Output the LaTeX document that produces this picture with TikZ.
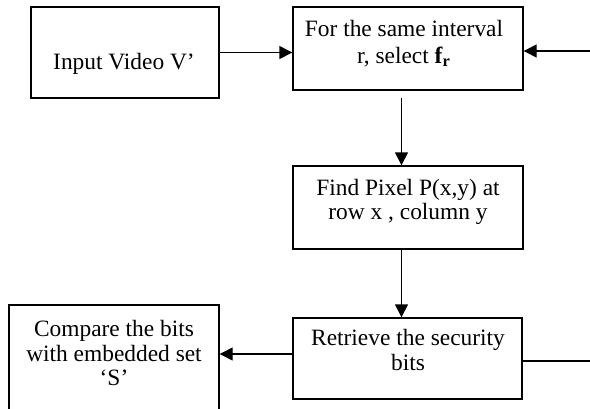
\documentclass[tikz,border=0pt]{standalone}
\usepackage{fontspec}
\setmainfont{Liberation Serif}
\usetikzlibrary{arrows.meta}
\begin{document}
\begin{tikzpicture}[x=0.5pt,y=-0.5pt,
  box/.style={draw, line width=0.7pt, inner sep=0pt},
  lbl/.style={anchor=base, inner sep=0pt, align=center,
    font=\fontsize{11.7}{12.5}\selectfont},
  link/.style={line width=0.7pt},
  arr/.style={link, -{Triangle[length=6.5pt,width=6.5pt]}}]
\useasboundingbox (0,0) rectangle (590,408);
\clip (0,0) rectangle (590,408);

% process boxes
\node[box, minimum width=94pt,  minimum height=45.5pt] (in)  at (125,52.5)  {};
\node[box, minimum width=115pt, minimum height=41.5pt] (sel) at (408,48.5)  {};
\node[box, minimum width=115pt, minimum height=41.5pt] (find) at (408,207.5) {};
\node[box, minimum width=114.5pt, minimum height=40.5pt] (ret) at (407.5,358.5) {};
\node[box, minimum width=105pt, minimum height=60pt] (cmp) at (114,365) {};

% box texts
\node[lbl] (tin)   at (124,69)  {Input Video V’};
\node[lbl] (tsel1) at (404,36)  {For the same interval};
\node[lbl] (tsel2) at (404,63)  {r, select \textbf{f}\textsubscript{\textbf{r}}};
\node[lbl] (tfind1) at (408,195) {Find Pixel P(x,y) at};
\node[lbl] (tfind2) at (408,219) {row x , column y};
\node[lbl] (tret1) at (408,345) {Retrieve the security};
\node[lbl] (tret2) at (408,370) {bits};
\node[lbl] (tcmp1) at (114,336) {Compare the bits};
\node[lbl] (tcmp2) at (114,361) {with embedded set};
\node[lbl] (tcmp3) at (114,385) {‘S’};

% loose ends at the right border
\coordinate (rin)  at (590,51);
\coordinate (rout) at (590,361);

% connectors
\draw[arr] (in.east) -- (in.east -| sel.west);
\draw[arr] (rin) -- (rin -| sel.east);
\draw[arr, shorten <=3.5pt] ([xshift=-3.25pt]sel.south) -- ([xshift=-3.25pt]find.north);
\draw[arr] ([xshift=-3.25pt]find.south) -- ([xshift=-3pt]ret.north);
\draw[arr] ([yshift=2.25pt]ret.west) -- ([yshift=2.25pt]ret.west -| cmp.east);
\draw[link] (rout -| ret.east) -- (rout);
\end{tikzpicture}
\end{document}
